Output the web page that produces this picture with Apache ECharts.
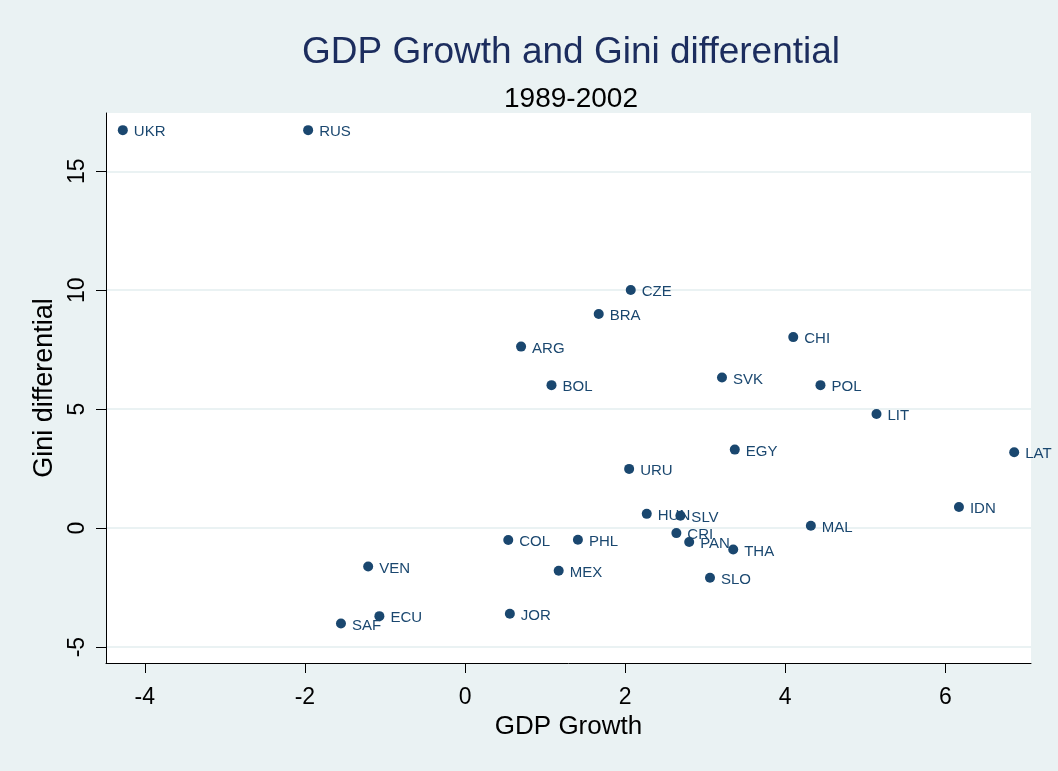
<!DOCTYPE html>
<html>
<head>
<meta charset="utf-8">
<title>GDP Growth and Gini differential</title>
<script src="https://cdn.jsdelivr.net/npm/echarts@6/dist/echarts.min.js"></script>
<style>
  html, body { margin: 0; padding: 0; background: #eaf2f3; }
  #chart { width: 1058px; height: 771px; }
</style>
</head>
<body>
<div id="chart"></div>
<script>
// Country codes with average GDP growth and Gini differential, 1989-2002
const countries = ['UKR','RUS','CZE','BRA','ARG','BOL','CHI','SVK','POL','LIT','EGY','LAT','URU','IDN',
                   'HUN','SLV','MAL','CRI','PAN','THA','COL','PHL','VEN','MEX','SLO','JOR','ECU','SAF'];
const gdpGrowth = [-4.275, -1.96, 2.07, 1.67, 0.70, 1.08, 4.10, 3.21, 4.44, 5.14, 3.37, 6.86, 2.05, 6.17,
                   2.27, 2.69, 4.32, 2.64, 2.80, 3.35, 0.54, 1.41, -1.21, 1.17, 3.06, 0.56, -1.07, -1.55];
const giniDiff  = [16.73, 16.73, 10.01, 9.00, 7.63, 6.01, 8.03, 6.33, 6.01, 4.80, 3.30, 3.19, 2.49, 0.89,
                   0.60, 0.52, 0.10, -0.21, -0.58, -0.90, -0.50, -0.49, -1.61, -1.79, -2.09, -3.60, -3.70, -4.01];

// Tick labels
const xTicks = [-4, -2, 0, 2, 4, 6];
const yTicks = [-5, 0, 5, 10, 15];

const FONT = "'Liberation Sans', Arial, Helvetica, sans-serif";
const NAVY = '#1a476f';

const points = countries.map((c, i) => ({ name: c, value: [gdpGrowth[i], giniDiff[i]] }));

const chart = echarts.init(document.getElementById('chart'), null, { renderer: 'canvas' });

chart.setOption({
  backgroundColor: '#eaf2f3',
  animation: false,
  textStyle: { fontFamily: FONT },
  title: [
    {
      text: 'GDP Growth and Gini differential',
      left: 566, top: 29, textAlign: 'center',
      textStyle: { fontFamily: FONT, fontSize: 37, fontWeight: 'normal', color: '#1c2d5e', lineHeight: 38 }
    },
    {
      text: '1989-2002',
      left: 566, top: 80, textAlign: 'center',
      textStyle: { fontFamily: FONT, fontSize: 28, fontWeight: 'normal', color: '#000', lineHeight: 28 }
    }
  ],
  grid: {
    left: 106, right: 27, top: 113, bottom: 108,
    show: true, backgroundColor: '#ffffff', borderWidth: 0
  },
  xAxis: {
    type: 'value',
    min: -4.485, max: 7.07,
    name: 'GDP Growth',
    nameLocation: 'middle',
    nameGap: 43,
    nameTextStyle: { fontFamily: FONT, fontSize: 26, color: '#000' },
    axisLine: { show: true, onZero: false, lineStyle: { color: '#000', width: 1 } },
    axisTick: { show: true, length: 10, customValues: xTicks, lineStyle: { color: '#000' } },
    axisLabel: { customValues: xTicks, fontSize: 23, color: '#000', margin: 23, fontFamily: FONT },
    splitLine: { show: false }
  },
  yAxis: {
    type: 'value',
    min: -5.67, max: 17.45,
    name: 'Gini differential',
    nameLocation: 'middle',
    nameGap: 48,
    nameRotate: 90,
    nameTextStyle: { fontFamily: FONT, fontSize: 27, color: '#000' },
    axisLine: { show: true, onZero: false, lineStyle: { color: '#000', width: 1 } },
    axisTick: { show: true, length: 10, customValues: yTicks, lineStyle: { color: '#000' } },
    axisLabel: { customValues: yTicks, fontSize: 23, color: '#000', margin: 17, rotate: 90, fontFamily: FONT },
    splitLine: { show: true, lineStyle: { color: '#eaf2f3', width: 2 } }
  },
  series: [{
    type: 'scatter',
    data: points,
    symbol: 'circle',
    symbolSize: 10,
    itemStyle: { color: NAVY, opacity: 1 },
    label: {
      show: true,
      position: 'right',
      distance: 6,
      offset: [0, 2],
      formatter: p => p.name,
      fontFamily: FONT,
      fontSize: 15,
      color: NAVY
    }
  }]
});
</script>
</body>
</html>
